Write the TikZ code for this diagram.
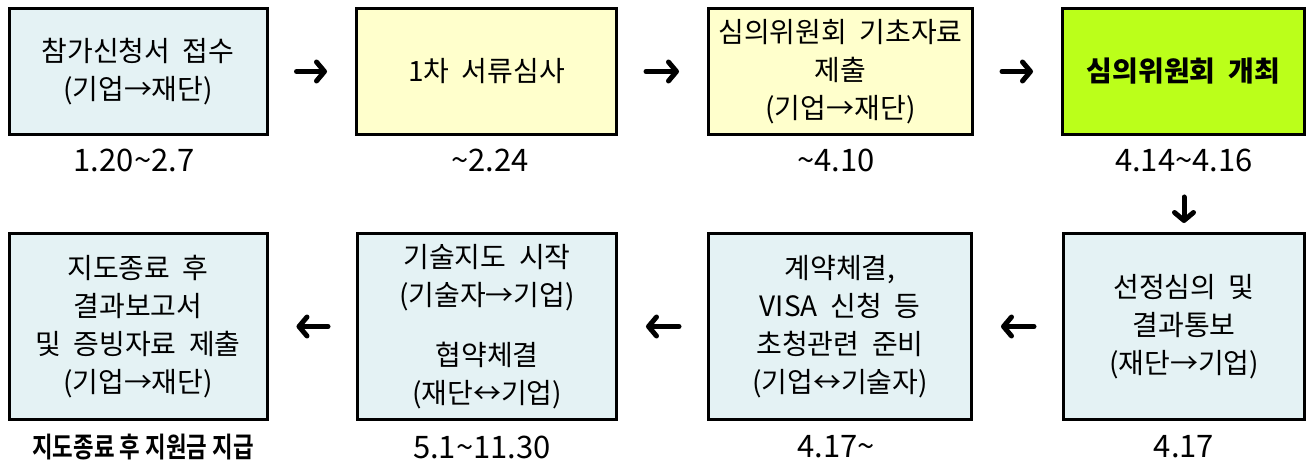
\documentclass[tikz,border=0pt]{standalone}
\usepackage{fontspec}
\setmainfont{Noto Sans CJK KR}[WordSpace=2]
\newfontfamily\notefont{Noto Sans CJK KR Bold}[FakeStretch=0.8]
\usetikzlibrary{arrows.meta}
\definecolor{stepblue}{RGB}{228,242,244}
\definecolor{stepyellow}{RGB}{255,255,204}
\definecolor{stepgreen}{RGB}{187,255,26}

\begin{document}
\begin{tikzpicture}[x=1pt,y=-1pt,
  box/.style={draw=black,line width=3pt,align=center,inner sep=0pt,font=\fontsize{28}{38}\selectfont},
  date/.style={font=\fontsize{31}{34}\selectfont},
  flow/.style={line width=5pt,line cap=round,line join=round,shorten <=28pt,shorten >=28pt,-{Straight Barb[length=8pt,width=19pt,round]}}]
\useasboundingbox (0,0) rectangle (1310,462);
% upper row
\node[box,fill=stepblue,minimum width=258pt,minimum height=126pt] (b1) at (138,71.5) {참가신청서 접수\\(기업→재단)};
\node[box,fill=stepyellow,minimum width=260pt,minimum height=126pt] (b2) at (486.5,71.5) {1차 서류심사};
\node[box,fill=stepyellow,minimum width=264pt,minimum height=126pt] (b3) at (840.5,71.5) {심의위원회 기초자료\\제출\\(기업→재단)};
\node[box,fill=stepgreen,minimum width=242pt,minimum height=126pt,font=\fontsize{28}{38}\selectfont\bfseries] (b4) at (1183.5,71.5) {심의위원회 개최};
\node[date] (d1) at (134,160) {1.20\textasciitilde2.7};
\node[date] (d2) at (490,160) {\textasciitilde2.24};
\node[date] (d3) at (836,160) {\textasciitilde4.10};
\node[date] (d4) at (1184,160) {4.14\textasciitilde4.16};
% lower row
\node[box,fill=stepblue,minimum width=241pt,minimum height=186pt] (b5) at (1184,326.5) {선정심의 및\\결과통보\\(재단→기업)};
\node[box,fill=stepblue,minimum width=263pt,minimum height=186pt] (b6) at (840,326.5) {계약체결,\\VISA 신청 등\\초청관련 준비\\(기업↔기술자)};
\node[box,fill=stepblue,minimum width=259pt,minimum height=186pt] (b7) at (487,326.5) {기술지도 시작\\(기술자→기업)\\[22pt]협약체결\\(재단↔기업)};
\node[box,fill=stepblue,minimum width=258pt,minimum height=186pt] (b8) at (138,326.5) {지도종료 후\\결과보고서\\및 증빙자료 제출\\(기업→재단)};
\node[date] (d5) at (1184,447) {4.17};
\node[date] (d6) at (836,447) {4.17\textasciitilde};
\node[date] (d7) at (482,447) {5.1\textasciitilde11.30};
\node[font=\fontsize{28}{30}\notefont] (d8) at (143,447) {지도종료 후 지원금 지급};
% flow arrows
\draw[flow] (b1) -- (b2);
\draw[flow] (b2) -- (b3);
\draw[flow] (b3) -- (b4);
\draw[flow,shorten <=22pt,shorten >=9pt] (d4) -- (b5);
\draw[flow] (b5) -- (b6);
\draw[flow] (b6) -- (b7);
\draw[flow] (b7) -- (b8);
\end{tikzpicture}
\end{document}
